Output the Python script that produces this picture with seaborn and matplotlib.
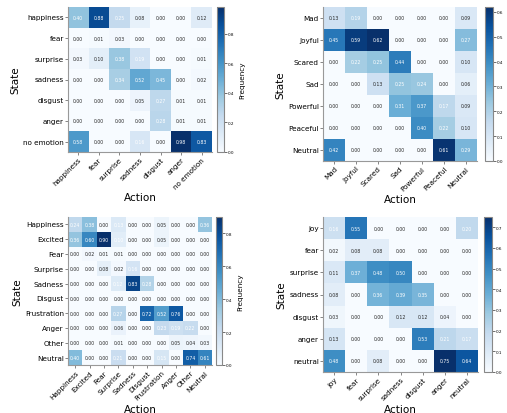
import numpy as np
import pandas as pd
import matplotlib
matplotlib.use("Agg")
import matplotlib.pyplot as plt
import seaborn as sns

# ---- data ----
labels1 = ["happiness", "fear", "surprise", "sadness", "disgust", "anger", "no emotion"]
vals1 = [
    [0.40, 0.88, 0.25, 0.08, 0.00, 0.00, 0.12],
    [0.00, 0.01, 0.03, 0.00, 0.00, 0.00, 0.00],
    [0.03, 0.10, 0.38, 0.19, 0.00, 0.00, 0.01],
    [0.00, 0.00, 0.34, 0.52, 0.45, 0.00, 0.02],
    [0.00, 0.00, 0.00, 0.05, 0.27, 0.01, 0.01],
    [0.00, 0.00, 0.00, 0.00, 0.28, 0.01, 0.01],
    [0.58, 0.00, 0.00, 0.16, 0.00, 0.98, 0.83],
]
labels2 = ["Mad", "Joyful", "Scared", "Sad", "Powerful", "Peaceful", "Neutral"]
vals2 = [
    [0.13, 0.19, 0.00, 0.00, 0.00, 0.00, 0.09],
    [0.45, 0.59, 0.62, 0.00, 0.00, 0.00, 0.27],
    [0.00, 0.22, 0.25, 0.44, 0.00, 0.00, 0.10],
    [0.00, 0.00, 0.13, 0.25, 0.24, 0.00, 0.06],
    [0.00, 0.00, 0.00, 0.31, 0.37, 0.17, 0.09],
    [0.00, 0.00, 0.00, 0.00, 0.40, 0.22, 0.10],
    [0.42, 0.00, 0.00, 0.00, 0.00, 0.61, 0.29],
]
labels3 = ["Happiness", "Excited", "Fear", "Surprise", "Sadness", "Disgust",
           "Frustration", "Anger", "Other", "Neutral"]
vals3 = [
    [0.24, 0.38, 0.00, 0.13, 0.00, 0.00, 0.05, 0.00, 0.00, 0.36],
    [0.36, 0.60, 0.90, 0.10, 0.00, 0.00, 0.05, 0.00, 0.00, 0.00],
    [0.00, 0.02, 0.01, 0.01, 0.00, 0.00, 0.00, 0.00, 0.00, 0.00],
    [0.00, 0.00, 0.08, 0.02, 0.16, 0.00, 0.00, 0.00, 0.00, 0.00],
    [0.00, 0.00, 0.00, 0.12, 0.83, 0.28, 0.00, 0.00, 0.00, 0.00],
    [0.00, 0.00, 0.00, 0.00, 0.00, 0.00, 0.00, 0.00, 0.00, 0.00],
    [0.00, 0.00, 0.00, 0.27, 0.00, 0.72, 0.52, 0.76, 0.00, 0.00],
    [0.00, 0.00, 0.00, 0.06, 0.00, 0.00, 0.23, 0.19, 0.22, 0.00],
    [0.00, 0.00, 0.00, 0.01, 0.00, 0.00, 0.00, 0.05, 0.04, 0.03],
    [0.40, 0.00, 0.00, 0.21, 0.00, 0.00, 0.15, 0.00, 0.74, 0.61],
]
labels4 = ["joy", "fear", "surprise", "sadness", "disgust", "anger", "neutral"]
vals4 = [
    [0.16, 0.55, 0.00, 0.00, 0.00, 0.00, 0.20],
    [0.02, 0.08, 0.08, 0.00, 0.00, 0.00, 0.00],
    [0.11, 0.37, 0.48, 0.50, 0.00, 0.00, 0.00],
    [0.08, 0.00, 0.36, 0.39, 0.35, 0.00, 0.00],
    [0.03, 0.00, 0.00, 0.12, 0.12, 0.04, 0.00],
    [0.13, 0.00, 0.00, 0.00, 0.53, 0.21, 0.17],
    [0.48, 0.00, 0.08, 0.00, 0.00, 0.75, 0.64],
]

W, H = 507, 414
fig = plt.figure(figsize=(W / 100, H / 100), dpi=100)

def box(x0, y0, x1, y1):
    return [x0 / W, 1 - y1 / H, (x1 - x0) / W, (y1 - y0) / H]

panels = [
    (labels1, vals1, box(68, 8, 212, 153), box(217, 8, 224, 153), [0, .2, .4, .6, .8], True, 0.14),
    (labels2, vals2, box(323, 8, 477, 162), box(485, 8, 493, 162), [0, .1, .2, .3, .4, .5, .6], False, 0.15),
    (labels3, vals3, box(68, 218, 212, 366), box(216, 218, 222, 366), [0, .2, .4, .6, .8], True, 0.09),
    (labels4, vals4, box(323, 218, 478, 373), box(484, 218, 492, 373), [0, .1, .2, .3, .4, .5, .6, .7], False, 0.15),
]

for labels, vals, axpos, cbpos, cticks, showlab, thr in panels:
    df = pd.DataFrame(vals, index=labels, columns=labels)
    ax = fig.add_axes(axpos)
    cax = fig.add_axes(cbpos)
    sns.heatmap(df, ax=ax, cbar_ax=cax, cmap="Blues", annot=True, fmt=".2f",
                annot_kws={"fontsize": 3.3}, vmin=0,
                xticklabels=labels, yticklabels=labels,
                cbar_kws={"ticks": cticks})
    # text colours
    flat = np.array(vals).ravel()
    for t, v in zip(ax.texts, flat):
        t.set_color("white" if v > thr else "#262626")
    ax.set_xlabel("Action", fontsize=7.5, labelpad=2)
    ax.set_ylabel("State", fontsize=7.5, labelpad=2)
    for t in ax.get_xticklabels():
        t.set_rotation(45)
        t.set_ha("right")
        t.set_rotation_mode("anchor")
        t.set_fontsize(5.2)
    for t in ax.get_yticklabels():
        t.set_rotation(0)
        t.set_fontsize(5.2)
    ax.tick_params(axis="both", length=2, width=0.5, pad=1, color="#555555")
    for s in ["left", "bottom"]:
        ax.spines[s].set_visible(True)
        ax.spines[s].set_color("#999999")
        ax.spines[s].set_linewidth(0.8)
    cb = ax.collections[0].colorbar
    cax.tick_params(labelsize=3, length=2, width=0.4, pad=1)
    cb.outline.set_visible(True)
    cb.outline.set_linewidth(0.8)
    cb.outline.set_edgecolor("#888888")
    if showlab:
        cax.set_ylabel("Frequency", fontsize=5.2, labelpad=3)

fig.savefig("out.png", dpi=100)
